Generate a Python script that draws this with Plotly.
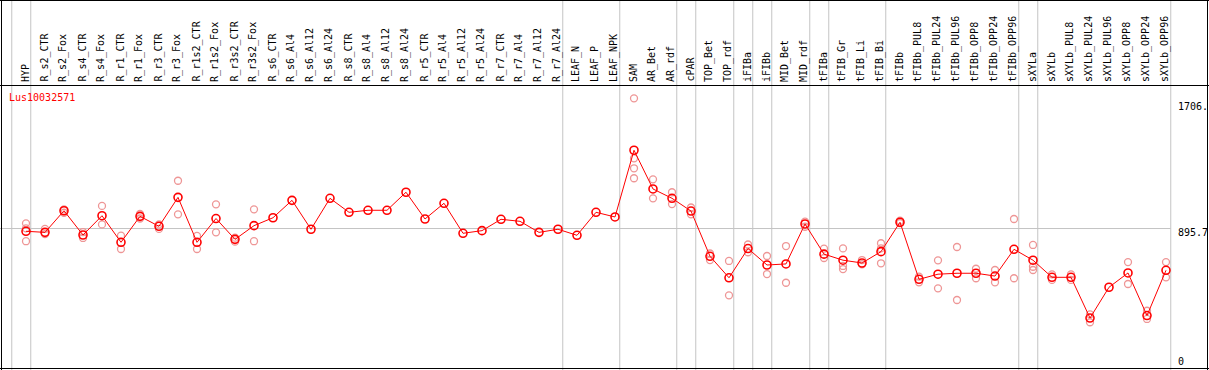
import plotly.graph_objects as go

categories = [
    "HYP", "R_s2_CTR", "R_s2_Fox", "R_s4_CTR", "R_s4_Fox", "R_r1_CTR", "R_r1_Fox",
    "R_r3_CTR", "R_r3_Fox", "R_r1s2_CTR", "R_r1s2_Fox", "R_r3s2_CTR", "R_r3s2_Fox",
    "R_s6_CTR", "R_s6_Al4", "R_s6_Al12", "R_s6_Al24", "R_s8_CTR", "R_s8_Al4",
    "R_s8_Al12", "R_s8_Al24", "R_r5_CTR", "R_r5_Al4", "R_r5_Al12", "R_r5_Al24",
    "R_r7_CTR", "R_r7_Al4", "R_r7_Al12", "R_r7_Al24", "LEAF_N", "LEAF_P", "LEAF_NPK",
    "SAM", "AR_Bet", "AR_rdf", "cPAR", "TOP_Bet", "TOP_rdf", "iFIBa", "iFIBb",
    "MID_Bet", "MID_rdf", "tFIBa", "tFIB_Gr", "tFIB_Li", "tFIB_Bi", "tFIBb",
    "tFIBb_PUL8", "tFIBb_PUL24", "tFIBb_PUL96", "tFIBb_OPP8", "tFIBb_OPP24",
    "tFIBb_OPP96", "sXYLa", "sXYLb", "sXYLb_PUL8", "sXYLb_PUL24", "sXYLb_PUL96",
    "sXYLb_OPP8", "sXYLb_OPP24", "sXYLb_OPP96",
]

main_values = [
    878, 871, 1010, 854, 978, 807, 974, 910, 1096, 807, 960, 826, 914,
    965, 1077, 891, 1090, 1000, 1013, 1013, 1129, 957, 1058, 865, 882,
    955, 942, 871, 891, 852, 1000, 970,
    1399, 1150, 1090, 1008, 717, 579, 767, 661, 668, 925, 731, 692, 674, 747, 936,
    569, 602, 608, 608, 590, 762, 692, 582, 582, 320, 518, 610, 336, 627,
]

replicate_values = [
    [929, 897, 814], [893, 860], [1019, 997], [873, 835], [1041, 922],
    [850, 764], [989, 960], [922, 893], [1203, 987], [848, 764],
    [1051, 871], [837, 811], [1019, 814],
    [], [], [], [], [], [], [], [], [], [], [], [], [], [], [], [], [], [], [],
    [1733, 1347, 1283, 1219], [1212, 1090], [1129, 1053], [1031, 987],
    [735, 693], [687, 466], [793, 743], [719, 603], [783, 547], [940, 907],
    [766, 706], [768, 655, 635], [693, 666], [801, 768, 672], [946, 930],
    [586, 550], [691, 511], [777, 436], [637, 576], [629, 550], [957, 576],
    [790, 650, 629], [601, 565], [601, 565], [344, 293], [], [680, 539],
    [367, 314], [680, 582],
]

group_boundaries = [-1, 0, 28, 31, 34, 35, 37, 38, 39, 41, 42, 45, 52, 53, 60]
gene_label = "Lus10032571"
mean_value = 895.7
axis_tick_values = [1706, 895.7, 0]
axis_tick_labels = ["1706.", "895.7", "0"]

W, H = 1209, 370
FONT = "DejaVu Sans Mono"

x_idx = list(range(len(categories)))
rep_x, rep_y = [], []
for i, reps in enumerate(replicate_values):
    for v in reps:
        rep_x.append(i)
        rep_y.append(v)

fig = go.Figure()
fig.add_trace(go.Scatter(
    x=rep_x, y=rep_y, mode="markers",
    marker=dict(symbol="circle-open", size=7, color="rgb(238,150,150)",
                line=dict(width=1.3, color="rgb(238,150,150)")),
    hoverinfo="skip", showlegend=False,
))
fig.add_trace(go.Scatter(
    x=x_idx, y=main_values, mode="lines+markers",
    line=dict(color="#ff0000", width=1),
    marker=dict(symbol="circle-open", size=8, color="#ff0000",
                line=dict(width=1.6, color="#ff0000")),
    showlegend=False,
))

shapes = []
gray = "#c4c4c4"
for b in group_boundaries:
    shapes.append(dict(type="line", xref="x", yref="paper", x0=b + 0.25, x1=b + 0.25,
                       y0=0, y1=1, line=dict(color=gray, width=1), layer="below"))
shapes.append(dict(type="line", xref="x", yref="y", x0=-1.5, x1=group_boundaries[-1] + 0.25,
                   y0=mean_value, y1=mean_value, line=dict(color=gray, width=1), layer="below"))

def py(px):
    return 1 - px / H

def pxx(px):
    return px / W

black = "#000000"
shapes += [
    dict(type="line", xref="paper", yref="paper", x0=0, x1=1, y0=py(0.5), y1=py(0.5), line=dict(color=black, width=1)),
    dict(type="line", xref="paper", yref="paper", x0=0, x1=1, y0=py(85.5), y1=py(85.5), line=dict(color=black, width=1)),
    dict(type="line", xref="paper", yref="paper", x0=0, x1=1, y0=py(368.5), y1=py(368.5), line=dict(color=black, width=1)),
    dict(type="line", xref="paper", yref="paper", x0=pxx(1.5), x1=pxx(1.5), y0=0, y1=1, line=dict(color=black, width=1)),
    dict(type="line", xref="paper", yref="paper", x0=pxx(1207.5), x1=pxx(1207.5), y0=0, y1=1, line=dict(color=black, width=1)),
]

annotations = []
for i, c in enumerate(categories):
    annotations.append(dict(
        x=i - 0.05, xref="x", y=py(83), yref="paper", text=c, textangle=-90,
        showarrow=False, xanchor="center", yanchor="bottom",
        font=dict(family=FONT, size=10, color=black), borderpad=0,
    ))
annotations.append(dict(
    x=pxx(8), xref="paper", y=py(97.5), yref="paper", text=gene_label,
    showarrow=False, xanchor="left", yanchor="middle",
    font=dict(family=FONT, size=10, color="#ff0000"), borderpad=0,
))
shifts = [-4, -4, 6]
for v, t, s in zip(axis_tick_values, axis_tick_labels, shifts):
    annotations.append(dict(
        x=pxx(1177), xref="paper", y=v, yref="y", yshift=s, text=t,
        showarrow=False, xanchor="left", yanchor="middle",
        font=dict(family=FONT, size=10, color=black), borderpad=0,
    ))

k = 0.1555
y0 = 367.8
fig.update_layout(
    width=W, height=H, autosize=False,
    margin=dict(l=0, r=0, t=0, b=0, pad=0),
    paper_bgcolor="white", plot_bgcolor="white",
    xaxis=dict(range=[-26 / 19, (W - 26) / 19], visible=False, fixedrange=True),
    yaxis=dict(range=[(y0 - H) / k, y0 / k], visible=False, fixedrange=True),
    shapes=shapes, annotations=annotations, showlegend=False,
)

fig.write_html(
    "out.html",
    config={"displayModeBar": False},
    post_script="document.body.style.margin='0';document.body.style.padding='0';document.body.style.overflow='hidden';",
)
